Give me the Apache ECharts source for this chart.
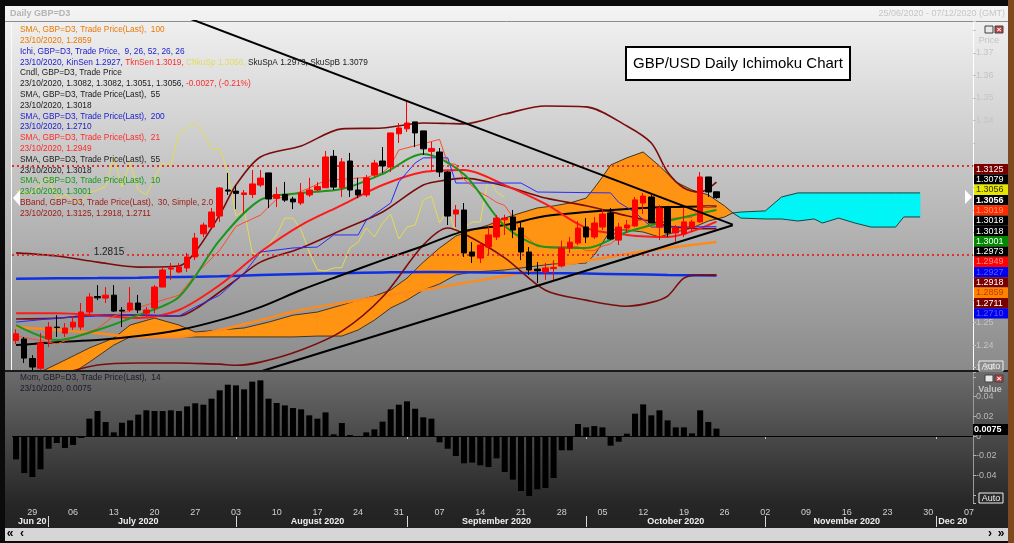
<!DOCTYPE html>
<html><head><meta charset="utf-8">
<script src="https://cdn.jsdelivr.net/npm/echarts@6/dist/echarts.min.js"></script>
<style>html,body{margin:0;padding:0;background:#0b0b0b;overflow:hidden}#c{width:1014px;height:543px}</style>
</head><body><div id="c"></div>
<script>
// ---------- categories: trading days 25/06/2020 .. 07/12/2020 ----------
const categories = [];
(function () {
  const d = new Date(Date.UTC(2020, 5, 25));
  const end = Date.UTC(2020, 11, 7);
  while (d.getTime() <= end) {
    const wd = d.getUTCDay();
    if (wd !== 0 && wd !== 6) categories.push(d.toISOString().slice(0, 10));
    d.setUTCDate(d.getUTCDate() + 1);
  }
})();

// ---------- candles (25/06 .. 23/10) ----------
const opens = [1.2420,1.2427,1.2340,1.2297,1.2427,1.2480,1.2453,1.2480,1.2480,1.2547,
1.2616,1.2609,1.2622,1.2555,1.2556,1.2587,1.2542,1.2565,1.2658,1.2738,
1.2725,1.2743,1.2792,1.2895,1.2925,1.2974,1.3090,1.3085,1.3070,1.3070,
1.3112,1.3166,1.3053,1.3070,1.3050,1.3032,1.3068,1.3090,1.3100,1.3240,
1.3100,1.3219,1.3090,1.3068,1.3157,1.3219,1.3192,1.3340,1.3362,1.3393,
1.3353,1.3262,1.3259,1.3170,1.2983,1.3001,1.2814,1.2787,1.2836,1.2881,
1.2958,1.2970,1.2921,1.2814,1.2738,1.2725,1.2740,1.2752,1.2832,1.2854,
1.2925,1.2881,1.2925,1.2988,1.2867,1.2921,1.2930,1.3032,1.3059,1.2925,
1.3010,1.2899,1.2894,1.2921,1.2948,1.3148,1.3082];
const highs = [1.2470,1.2436,1.2355,1.2453,1.2502,1.2533,1.2498,1.2529,1.2587,1.2631,
1.2667,1.2658,1.2667,1.2569,1.2658,1.2623,1.2569,1.2667,1.2747,1.2765,
1.2765,1.2810,1.2899,1.2945,1.3010,1.3103,1.3166,1.3112,1.3090,1.3179,
1.3179,1.3166,1.3103,1.3126,1.3060,1.3121,1.3144,1.3125,1.3264,1.3268,
1.3232,1.3255,1.3144,1.3157,1.3224,1.3281,1.3344,1.3388,1.3482,1.3393,
1.3353,1.3305,1.3277,1.3175,1.3023,1.3032,1.2858,1.2858,1.2925,1.2979,
1.2980,1.3001,1.2948,1.2836,1.2769,1.2765,1.2778,1.2865,1.2881,1.2952,
1.2965,1.2970,1.3005,1.3010,1.2943,1.2957,1.3059,1.3077,1.3068,1.3023,
1.3019,1.2934,1.3010,1.2957,1.3170,1.3148,1.3082];
const lows = [1.2405,1.2320,1.2280,1.2290,1.2391,1.2436,1.2436,1.2467,1.2467,1.2525,
1.2600,1.2587,1.2547,1.2480,1.2547,1.2542,1.2525,1.2542,1.2658,1.2690,
1.2720,1.2725,1.2778,1.2880,1.2921,1.2948,1.3068,1.3005,1.2988,1.3054,
1.3103,1.3010,1.3014,1.3037,1.3005,1.3023,1.3059,1.3085,1.3100,1.3090,
1.3059,1.3059,1.3054,1.3059,1.3148,1.3166,1.3170,1.3299,1.3348,1.3281,
1.3246,1.3175,1.3148,1.2934,1.2925,1.2792,1.2765,1.2765,1.2801,1.2867,
1.2890,1.2876,1.2778,1.2712,1.2676,1.2690,1.2690,1.2745,1.2810,1.2845,
1.2854,1.2872,1.2912,1.2867,1.2845,1.2899,1.2925,1.2983,1.2943,1.2867,
1.2881,1.2858,1.2881,1.2903,1.2945,1.3059,1.3051];
const closes = [1.2450,1.2342,1.2302,1.2409,1.2480,1.2478,1.2476,1.2502,1.2547,1.2614,
1.2610,1.2622,1.2551,1.2551,1.2587,1.2556,1.2556,1.2658,1.2734,1.2743,
1.2747,1.2792,1.2876,1.2934,1.2992,1.3099,1.3085,1.3075,1.3077,1.3117,
1.3143,1.3050,1.3070,1.3045,1.3037,1.3077,1.3090,1.3105,1.3237,1.3103,
1.3215,1.3090,1.3068,1.3144,1.3210,1.3197,1.3344,1.3366,1.3388,1.3344,
1.3273,1.3275,1.3170,1.2974,1.3001,1.2810,1.2796,1.2845,1.2890,1.2965,
1.2965,1.2912,1.2814,1.2734,1.2730,1.2743,1.2745,1.2832,1.2858,1.2921,
1.2881,1.2943,1.2983,1.2872,1.2925,1.2934,1.3046,1.3063,1.2943,1.3010,
1.2899,1.2921,1.2948,1.2948,1.3148,1.3081,1.3056];

// ---------- momentum (14) ----------
const momentum = [-0.0237,-0.0376,-0.0416,-0.0338,-0.0129,-0.0071,-0.0122,-0.0091,-0.0020,0.0176,
0.0254,0.0142,0.0037,0.0135,0.0159,0.0217,0.0261,0.0254,0.0254,0.0261,
0.0254,0.0301,0.0332,0.0318,0.0379,0.0464,0.0521,0.0514,0.0474,0.0552,
0.0565,0.0379,0.0335,0.0311,0.0284,0.0271,0.0210,0.0176,0.0240,0.0017,
0.0132,0.0010,-0.0010,0.0037,0.0068,0.0146,0.0271,0.0318,0.0352,0.0277,
0.0190,0.0176,-0.0064,-0.0129,-0.0203,-0.0277,-0.0270,-0.0298,-0.0315,-0.0227,
-0.0365,-0.0443,-0.0558,-0.0609,-0.0541,-0.0528,-0.0426,-0.0145,-0.0145,0.0122,
0.0088,0.0101,0.0088,-0.0098,-0.0058,0.0024,0.0227,0.0321,0.0210,0.0261,
0.0159,0.0088,0.0088,0.0027,0.0261,0.0142,0.0075];

// ---------- Ichimoku ----------
const chikou = [1.3085,1.3075,1.3077,1.3117,1.3143,1.3050,1.3070,1.3045,1.3037,1.3077,
1.3090,1.3105,1.3237,1.3103,1.3215,1.3090,1.3068,1.3144,1.3210,1.3197,
1.3344,1.3366,1.3388,1.3344,1.3273,1.3275,1.3170,1.2974,1.3001,1.2810,
1.2796,1.2845,1.2890,1.2965,1.2965,1.2912,1.2814,1.2734,1.2730,1.2743,
1.2745,1.2832,1.2858,1.2921,1.2881,1.2943,1.2983,1.2872,1.2925,1.2934,
1.3046,1.3063,1.2943,1.3010,1.2899,1.2921,1.2948,1.2948,1.3148,1.3081,1.3056];
const kijunIdx = [0,5,10,15,20,22,25,28,30,34,37,39,42,43,46,47,49,50,53,54,62,64,73,74,76,78,86];
const kijun = [1.2502,1.2520,1.2529,1.2533,1.2529,1.2569,1.2622,1.2720,1.2814,1.2832,1.2836,1.2890,1.2890,1.2956,1.3032,1.3126,1.3210,1.3233,1.3233,1.3121,1.3121,1.3081,1.3077,1.3035,1.2990,1.2925,1.2927];
const tenkanIdx = [0,3,5,10,12,15,20,22,25,27,30,32,35,38,43,45,46,47,52,53,54,55,57,58,59,60,61,62,63,64,69,70,71,72,73,75,76,78,83,84,86];
const tenkan = [1.2440,1.2420,1.2405,1.2473,1.2529,1.2567,1.2622,1.2712,1.2822,1.2928,1.2978,1.3050,1.3083,1.3132,1.3146,1.3167,1.3199,1.3268,1.3315,1.3208,1.3204,1.3137,1.3079,1.3059,1.3035,1.3021,1.2970,1.2898,1.2872,1.2838,1.2838,1.2820,1.2820,1.2840,1.2850,1.2910,1.2952,1.2961,1.2968,1.3014,1.3019];
const cloudIdx = [0,3,6,9,12,14,17,20,22,25,28,31,34,37,40,42,44,46,48,50,52,54,56,58,60,62,64,66,68,70,71,72,73,75,77,79,81,83,85,87,88,89,92,94,96,98,99,101,103,105,108,109,111];
const spanA = [1.2222,1.2280,1.2333,1.2387,1.2431,1.2489,1.2520,1.2489,1.2458,1.2467,
1.2476,1.2502,1.2533,1.2547,1.2578,1.2600,1.2618,1.2645,1.2698,1.2769,
1.2832,1.2885,1.2912,1.2934,1.2965,1.2988,1.3010,1.3019,1.3032,1.3054,
1.3099,1.3148,1.3201,1.3233,1.3259,1.3197,1.3126,1.3090,1.3068,1.3019,
1.2988,1.2965,1.2961,1.2961,1.2952,1.2961,1.2943,1.2965,1.2943,1.2925,
1.2925,1.2970,1.2970];
const spanB = [1.2155,1.2191,1.2253,1.2324,1.2400,1.2436,1.2436,1.2436,1.2436,1.2436,
1.2436,1.2436,1.2436,1.2440,1.2440,1.2467,1.2511,1.2565,1.2600,1.2645,
1.2672,1.2712,1.2725,1.2729,1.2734,1.2743,1.2752,1.2761,1.2761,1.2765,
1.2801,1.2854,1.2912,1.2912,1.2903,1.2881,1.2903,1.2921,1.2952,1.2970,
1.2988,1.2992,1.2997,1.3059,1.3077,1.3077,1.3077,1.3077,1.3077,1.3077,
1.3077,1.3077,1.3077];

// ---------- moving averages ----------
const smaIdx = [0,5,10,15,20,25,30,35,40,45,50,55,60,65,70,75,80,86];
const sma100 = [1.2480,1.2467,1.2453,1.2436,1.2436,1.2467,1.2511,1.2556,1.2587,1.2618,1.2645,1.2676,1.2707,1.2743,1.2774,1.2805,1.2832,1.2859];
const sma200 = [1.2695,1.2697,1.2698,1.2700,1.2703,1.2706,1.2712,1.2716,1.2720,1.2723,1.2725,1.2724,1.2722,1.2720,1.2718,1.2715,1.2712,1.2710];
const sma55 = [1.2400,1.2413,1.2422,1.2440,1.2467,1.2511,1.2569,1.2645,1.2712,1.2778,1.2841,1.2907,1.2934,1.2974,1.2992,1.3005,1.3014,1.3018];
const sma21 = [1.2542,1.2542,1.2533,1.2520,1.2556,1.2667,1.2814,1.2934,1.3023,1.3112,1.3170,1.3179,1.3112,1.3028,1.2921,1.2890,1.2881,1.2949];
const sma10 = [1.2489,1.2422,1.2467,1.2533,1.2614,1.2867,1.3046,1.3077,1.3094,1.3161,1.3250,1.3160,1.2930,1.2836,1.2832,1.2903,1.2952,1.3001];
const bbIdx = [0,5,10,15,20,22,25,27,30,35,40,45,50,53,55,60,65,70,75,78,80,82,84,86];
const bbUpper = [1.2810,1.2796,1.2769,1.2747,1.2752,1.2814,1.2979,1.3112,1.3237,1.3286,1.3362,1.3366,1.3388,1.3386,1.3384,1.3428,1.3464,1.3460,1.3375,1.3299,1.3170,1.3099,1.3081,1.3125];
const bbMid = [1.2516,1.2520,1.2533,1.2533,1.2529,1.2560,1.2636,1.2690,1.2769,1.2832,1.2912,1.2992,1.3112,1.3135,1.3143,1.3108,1.3054,1.3020,1.2975,1.2950,1.2930,1.2921,1.2918,1.2918];
const bbLower = [1.2222,1.2266,1.2311,1.2320,1.2320,1.2318,1.2315,1.2310,1.2324,1.2378,1.2462,1.2614,1.2845,1.2921,1.2895,1.2788,1.2644,1.2600,1.2573,1.2590,1.2618,1.2698,1.2712,1.2711];

// ---------- drawn lines ----------
const trendDownIdx = [21, 88], trendDownVal = [1.3857, 1.2936];
const trendUpIdx = [30, 88], trendUpVal = [1.2282, 1.2933];
const levelLines = [1.3170, 1.2815];

// ---------- labels ----------
const monthLabelIdx = [2, 15, 37, 59, 81, 102, 115];
const monthLabelText = ['Jun 20', 'July 2020', 'August 2020', 'September 2020', 'October 2020', 'November 2020', 'Dec 20'];
const valueBoxText = ['1.3125','1.3079','1.3056','1.3056','1.3019','1.3018','1.3018','1.3001','1.2973','1.2949','1.2927','1.2918','1.2859','1.2711','1.2710'];
const valueBoxBg = ['#7a0000','#000000','#e6e600','#000000','#ff2a00','#000000','#000000','#008a00','#000000','#ff0000','#0000ee','#7a0000','#ff8200','#7a0000','#0000ee'];
const valueBoxFg = ['#ffffff','#ffffff','#303000','#ffffff','#ff9a70','#ffffff','#ffffff','#ffffff','#ffffff','#ff8a8a','#5a5aff','#ffffff','#b84000','#ffffff','#5a5aff'];

const legendLines = [
  [['SMA, GBP=D3, Trade Price(Last),  100', '#ee7800']],
  [['23/10/2020, 1.2859', '#ee7800']],
  [['Ichi, GBP=D3, Trade Price,  9, 26, 52, 26, 26', '#1a1ad0']],
  [['23/10/2020, KinSen 1.2927, ', '#1a1ad0'], ['TknSen 1.3019, ', '#ff2a2a'], ['ChkuSp 1.3056, ', '#e2dc5a'], ['SkuSpA 1.2973, SkuSpB 1.3079', '#202020']],
  [['Cndl, GBP=D3, Trade Price', '#202020']],
  [['23/10/2020, 1.3082, 1.3082, 1.3051, 1.3056, ', '#202020'], ['-0.0027, (-0.21%)', '#ff2a2a']],
  [['SMA, GBP=D3, Trade Price(Last),  55', '#202020']],
  [['23/10/2020, 1.3018', '#202020']],
  [['SMA, GBP=D3, Trade Price(Last),  200', '#1a1ad0']],
  [['23/10/2020, 1.2710', '#1a1ad0']],
  [['SMA, GBP=D3, Trade Price(Last),  21', '#ff2a2a']],
  [['23/10/2020, 1.2949', '#ff2a2a']],
  [['SMA, GBP=D3, Trade Price(Last),  55', '#202020']],
  [['23/10/2020, 1.3018', '#202020']],
  [['SMA, GBP=D3, Trade Price(Last),  10', '#129a12']],
  [['23/10/2020, 1.3001', '#129a12']],
  [['BBand, GBP=D3, Trade Price(Last),  30, Simple, 2.0', '#a01a1a']],
  [['23/10/2020, 1.3125, 1.2918, 1.2711', '#a01a1a']]
];

// ---------- build ----------
const FF = '"Liberation Sans", Arial, sans-serif';
const LFS = 8.3;
const pairs = (idx, vals) => idx.map((x, k) => [x, vals[k]]);
const monthStart = new Set();
categories.forEach((c, i) => { if (i > 0 && c.slice(5, 7) !== categories[i - 1].slice(5, 7)) monthStart.add(i); });
const isMonday = v => new Date(v + 'T00:00:00Z').getUTCDay() === 1;

function lineS(data, color, width, z, smooth) {
  return { type: 'line', xAxisIndex: 0, yAxisIndex: 0, data, symbol: 'none', silent: true, z: z || 3,
    smooth: smooth || 0, lineStyle: { color, width }, clip: true };
}

const graphics = [];
// backgrounds
graphics.push({ type: 'rect', z: -10, silent: true, shape: { x: 5, y: 6, width: 1003, height: 365 },
  style: { fill: new echarts.graphic.LinearGradient(0, 0, 0, 1, [{ offset: 0, color: '#f4f4f4' }, { offset: 1, color: '#8a8a8a' }]) } });
graphics.push({ type: 'rect', z: -10, silent: true, shape: { x: 5, y: 371, width: 1003, height: 157 },
  style: { fill: new echarts.graphic.LinearGradient(0, 0, 0, 1, [{ offset: 0, color: '#6c6c6c' }, { offset: 0.85, color: '#262626' }, { offset: 1, color: '#222222' }]) } });
graphics.push({ type: 'rect', z: -10, silent: true, shape: { x: 5, y: 528, width: 1003, height: 13 }, style: { fill: '#d6d6d6' } });
graphics.push({ type: 'rect', z: -10, silent: true, shape: { x: 1008, y: 0, width: 6, height: 543 }, style: { fill: '#7c4a1e' } });
graphics.push({ type: 'line', z: -9, silent: true, shape: { x1: 5, y1: 21.5, x2: 1008, y2: 21.5 }, style: { stroke: '#8c8c8c', lineWidth: 1 } });
graphics.push({ type: 'line', z: 50, silent: true, shape: { x1: 5, y1: 371, x2: 1008, y2: 371 }, style: { stroke: '#1a1a1a', lineWidth: 2 } });
graphics.push({ type: 'line', z: 50, silent: true, shape: { x1: 11.5, y1: 22, x2: 11.5, y2: 370 }, style: { stroke: '#fafafa', lineWidth: 1 } });

// header
graphics.push({ type: 'text', z: 100, silent: true, x: 10, y: 14, style: { text: 'Daily GBP=D3', font: 'bold 9px ' + FF, fill: '#b4b4b4', verticalAlign: 'middle' } });
graphics.push({ type: 'text', z: 100, silent: true, x: 1005, y: 14, style: { text: '25/06/2020 - 07/12/2020 (GMT)', font: '9px ' + FF, fill: '#c6c6c6', align: 'right', verticalAlign: 'middle' } });

// legend
legendLines.forEach((segs, k) => {
  const rich = {}; let text = '';
  segs.forEach((s, j) => { rich['s' + j] = { fill: s[1], fontSize: LFS, fontFamily: FF }; text += '{s' + j + '|' + s[0] + '}'; });
  graphics.push({ type: 'text', z: 100, silent: true, x: 20, y: 30 + k * 10.8, style: { text, rich, fontSize: LFS, fontFamily: FF, verticalAlign: 'middle' } });
});

// title box
graphics.push({ type: 'rect', z: 100, silent: true, shape: { x: 626, y: 47, width: 224, height: 33 }, style: { fill: '#ffffff', stroke: '#000000', lineWidth: 2 } });
graphics.push({ type: 'text', z: 101, silent: true, x: 738, y: 64, style: { text: 'GBP/USD Daily Ichimoku Chart', font: '15px ' + FF, fill: '#000', align: 'center', verticalAlign: 'middle' } });

// 1.2815 label
graphics.push({ type: 'text', z: 100, silent: true, x: 109, y: 252, style: { text: '1.2815', font: '10px ' + FF, fill: '#1e1e1e', align: 'center', verticalAlign: 'middle', backgroundColor: '#ababab', padding: [0, 3] } });

// scroll arrows
graphics.push({ type: 'polygon', z: 100, silent: true, shape: { points: [[20, 190], [13, 198], [20, 206]] }, style: { fill: '#ffffff' } });
graphics.push({ type: 'polygon', z: 100, silent: true, shape: { points: [[965, 190], [972, 197], [965, 204]] }, style: { fill: '#ffffff' } });

// value boxes
valueBoxText.forEach((t, k) => {
  const y = 164 + k * 10.3;
  graphics.push({ type: 'rect', z: 100, silent: true, shape: { x: 974, y: y, width: 34, height: 10.3 }, style: { fill: valueBoxBg[k] } });
  graphics.push({ type: 'text', z: 101, silent: true, x: 976, y: y + 5.3, style: { text: t, font: (k === 3 ? 'bold ' : '') + '9px ' + FF, fill: valueBoxFg[k], verticalAlign: 'middle' } });
});

// right panel headers / buttons
function icons(y) {
  graphics.push({ type: 'rect', z: 100, silent: true, shape: { x: 985, y: y, width: 8, height: 7 }, style: { fill: '#e8e8e8', stroke: '#404040', lineWidth: 1 } });
  graphics.push({ type: 'rect', z: 100, silent: true, shape: { x: 995, y: y, width: 8, height: 7 }, style: { fill: '#c84040', stroke: '#404040', lineWidth: 1 } });
  graphics.push({ type: 'text', z: 101, silent: true, x: 999, y: y + 4, style: { text: '×', font: 'bold 8px ' + FF, fill: '#fff', align: 'center', verticalAlign: 'middle' } });
}
icons(26); icons(375);
graphics.push({ type: 'text', z: 100, silent: true, x: 989, y: 41, style: { text: 'Price', font: '9px ' + FF, fill: '#c4c4c4', align: 'center', verticalAlign: 'middle' } });
graphics.push({ type: 'text', z: 100, silent: true, x: 990, y: 390, style: { text: 'Value', font: 'bold 9px ' + FF, fill: '#c2c2c2', align: 'center', verticalAlign: 'middle' } });
function autoBtn(y) {
  graphics.push({ type: 'rect', z: 100, silent: true, shape: { x: 979, y: y, width: 24, height: 10 }, style: { fill: 'rgba(0,0,0,0)', stroke: '#eeeeee', lineWidth: 1 } });
  graphics.push({ type: 'text', z: 101, silent: true, x: 991, y: y + 5.5, style: { text: 'Auto', font: '9px ' + FF, fill: '#f0f0f0', align: 'center', verticalAlign: 'middle' } });
}
autoBtn(361); autoBtn(493);
graphics.push({ type: 'rect', z: 100, silent: true, shape: { x: 973, y: 424, width: 35, height: 11 }, style: { fill: '#000' } });
graphics.push({ type: 'text', z: 101, silent: true, x: 974, y: 430, style: { text: '0.0075', font: 'bold 9px ' + FF, fill: '#fff', verticalAlign: 'middle' } });

// momentum legend
graphics.push({ type: 'text', z: 100, silent: true, x: 20, y: 378, style: { text: 'Mom, GBP=D3, Trade Price(Last),  14', font: LFS + 'px ' + FF, fill: '#1a1a2a', verticalAlign: 'middle' } });
graphics.push({ type: 'text', z: 100, silent: true, x: 20, y: 389, style: { text: '23/10/2020, 0.0075', font: LFS + 'px ' + FF, fill: '#1a1a2a', verticalAlign: 'middle' } });

// scroll bar
graphics.push({ type: 'text', z: 100, silent: true, x: 10, y: 534, style: { text: '«', font: 'bold 12px ' + FF, fill: '#000', align: 'center', verticalAlign: 'middle' } });
graphics.push({ type: 'text', z: 100, silent: true, x: 22, y: 534, style: { text: '‹', font: 'bold 12px ' + FF, fill: '#000', align: 'center', verticalAlign: 'middle' } });
graphics.push({ type: 'text', z: 100, silent: true, x: 990, y: 534, style: { text: '›', font: 'bold 12px ' + FF, fill: '#000', align: 'center', verticalAlign: 'middle' } });
graphics.push({ type: 'text', z: 100, silent: true, x: 1001, y: 534, style: { text: '»', font: 'bold 12px ' + FF, fill: '#000', align: 'center', verticalAlign: 'middle' } });

const cloudData = cloudIdx.map((x, k) => [x, spanA[k], spanB[k]]);

const option = {
  animation: false,
  backgroundColor: 'transparent',
  grid: [
    { left: 12, right: 41, top: 21, height: 349 },
    { left: 12, right: 41, top: 372, height: 131 }
  ],
  xAxis: [
    { gridIndex: 0, type: 'category', data: categories, boundaryGap: true,
      axisLine: { show: false }, axisTick: { show: false }, axisLabel: { show: false }, splitLine: { show: false } },
    { gridIndex: 1, type: 'category', data: categories, boundaryGap: true,
      axisLine: { show: true, lineStyle: { color: '#5a5a5a' } },
      axisTick: { show: true, alignWithLabel: true, length: 3, interval: (i) => monthStart.has(i), lineStyle: { color: '#c8c8c8' } },
      axisLabel: { interval: (i, v) => isMonday(v), formatter: v => v.slice(8, 10), color: '#d0d0d0', fontSize: 9, fontFamily: FF, margin: 5 } },
    { gridIndex: 1, type: 'category', data: categories, boundaryGap: true, position: 'bottom', offset: 13,
      axisLine: { show: false },
      axisTick: { show: true, alignWithLabel: true, length: 11, interval: (i) => monthStart.has(i), lineStyle: { color: '#d8d8d8' } },
      axisLabel: { interval: (i) => monthLabelIdx.indexOf(i) >= 0, formatter: (v, i) => monthLabelText[monthLabelIdx.indexOf(i)] || '',
        color: '#eeeeee', fontSize: 9, fontWeight: 'bold', fontFamily: FF, margin: 1 } }
  ],
  yAxis: [
    { gridIndex: 0, type: 'value', position: 'right', min: 1.2289, max: 1.3842, minInterval: 0.01, maxInterval: 0.01,
      showMinLabel: false, showMaxLabel: false,
      axisLine: { show: true, lineStyle: { color: '#ffffff' } },
      axisTick: { show: true, length: 3, lineStyle: { color: '#c4c4c4' } },
      axisLabel: { color: '#c4c4c4', fontSize: 9, fontFamily: FF, margin: 3,
        formatter: v => ((v > 1.255 && v < 1.335) || v > 1.375) ? '' : v.toFixed(2) },
      splitLine: { show: false } },
    { gridIndex: 1, type: 'value', position: 'right', min: -0.068, max: 0.065, minInterval: 0.02, maxInterval: 0.02,
      showMinLabel: false, showMaxLabel: false,
      axisLine: { show: true, lineStyle: { color: '#9a9a9a' } },
      axisTick: { show: true, length: 3, lineStyle: { color: '#b0b0b0' } },
      axisLabel: { color: '#b8b8b8', fontSize: 9, fontFamily: FF, margin: 3,
        formatter: v => Math.abs(v) < 1e-9 ? '0' : (Math.abs(v) > 0.05 ? '' : v.toFixed(2)) },
      splitLine: { show: false } }
  ],
  graphic: graphics,
  series: [
    { type: 'custom', xAxisIndex: 0, yAxisIndex: 0, z: 1, clip: true, silent: true,
      data: cloudData, encode: { x: 0, y: [1, 2] },
      renderItem: function (params, api) {
        const k = params.dataIndex;
        if (k >= cloudIdx.length - 1) return null;
        const a0 = api.coord([cloudIdx[k], spanA[k]]), a1 = api.coord([cloudIdx[k + 1], spanA[k + 1]]);
        const b0 = api.coord([cloudIdx[k], spanB[k]]), b1 = api.coord([cloudIdx[k + 1], spanB[k + 1]]);
        const bull = (spanA[k] + spanA[k + 1]) >= (spanB[k] + spanB[k + 1]);
        const c = bull ? '#ff9412' : '#00f6f6';
        return { type: 'polygon', shape: { points: [a0, a1, b1, b0] }, style: { fill: c, stroke: c, lineWidth: 0.6 } };
      } },
    lineS(pairs(cloudIdx, spanA), '#2a2a2a', 0.9, 2),
    lineS(pairs(cloudIdx, spanB), '#2a2a2a', 0.9, 2),
    lineS(chikou.map((v, i) => [i, v]), '#e4dc50', 1, 3),
    lineS(pairs(smaIdx, sma100), '#ff8a1c', 2.5, 3, 0.3),
    lineS(pairs(smaIdx, sma200), '#1030e6', 2.5, 3, 0.3),
    lineS(pairs(bbIdx, bbUpper), '#7a0c0c', 1.6, 3, 0.3),
    lineS(pairs(bbIdx, bbMid), '#7a0c0c', 1.6, 3, 0.3),
    lineS(pairs(bbIdx, bbLower), '#7a0c0c', 1.6, 3, 0.3),
    lineS(pairs(smaIdx, sma55), '#000000', 2, 3, 0.3),
    lineS(pairs(smaIdx, sma21), '#ff1a1a', 2, 3, 0.3),
    lineS(pairs(kijunIdx, kijun), '#2a2aff', 1, 3),
    lineS(pairs(tenkanIdx, tenkan), '#ff4a2a', 1, 3),
    lineS(pairs(smaIdx, sma10), '#1a961a', 2, 3, 0.3),
    { type: 'candlestick', xAxisIndex: 0, yAxisIndex: 0, z: 5, silent: true, barWidth: 6,
      data: opens.map((o, i) => [o, closes[i], lows[i], highs[i]]),
      itemStyle: { color: '#ff0000', color0: '#000000', borderColor: '#ff0000', borderColor0: '#000000', borderWidth: 1 },
      markLine: { silent: true, symbol: 'none', animation: false, label: { show: false },
        lineStyle: { type: [2, 3], color: '#e03030', width: 2 },
        data: levelLines.map(v => ({ yAxis: v })) } },
    lineS(pairs(trendDownIdx, trendDownVal), '#000000', 2, 6),
    lineS(pairs(trendUpIdx, trendUpVal), '#000000', 2, 6),
    { type: 'bar', xAxisIndex: 1, yAxisIndex: 1, data: momentum, barWidth: 6, silent: true,
      itemStyle: { color: '#000000' },
      markLine: { silent: true, symbol: 'none', animation: false, label: { show: false },
        lineStyle: { type: 'solid', color: '#000000', width: 1 }, data: [{ yAxis: 0 }] } }
  ]
};
const chart = echarts.init(document.getElementById('c'), null, { renderer: 'canvas' });
chart.setOption(option);
</script></body></html>
